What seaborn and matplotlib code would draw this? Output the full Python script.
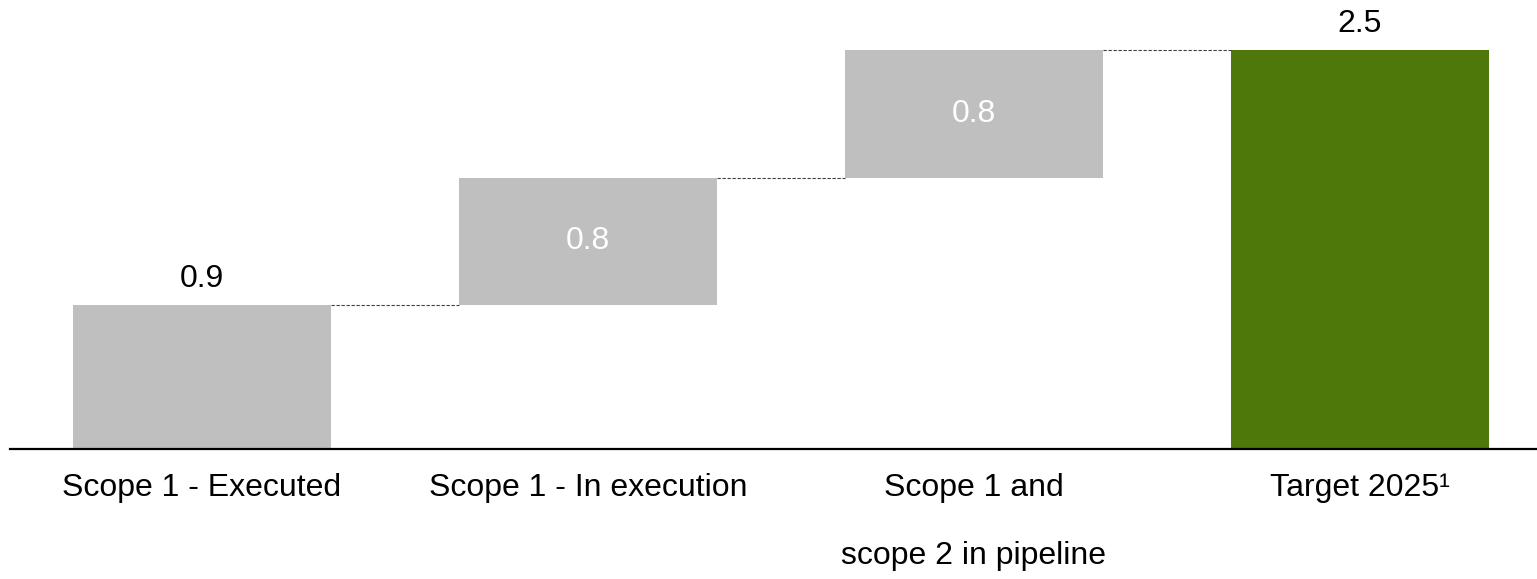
import matplotlib
matplotlib.use("Agg")
import matplotlib.pyplot as plt
import seaborn as sns
import numpy as np
import pandas as pd

# Waterfall: contributions toward the 2025 target
categories = ["Scope 1 - Executed", "Scope 1 - In execution",
              "Scope 1 and\nscope 2 in pipeline", "Target 2025\u00b9"]
steps = [0.9, 0.8, 0.8]
total = 2.5
value_labels = ["0.9", "0.8", "0.8", "2.5"]

heights = steps + [total]
bottoms = list(np.concatenate([[0.0], np.cumsum(steps)[:-1]])) + [0.0]
colors = ["#bfbfbf", "#bfbfbf", "#bfbfbf", "#4e790a"]

df = pd.DataFrame({"category": categories, "height": heights, "bottom": bottoms})

sns.set_theme(style="white")
plt.rcParams["font.family"] = ["Liberation Sans", "DejaVu Sans"]

W, H = 1537, 579
fig = plt.figure(figsize=(W / 100, H / 100), dpi=100)
ax = fig.add_axes([10 / W, 130 / H, 1527 / W, 449 / H])

bar_w = 0.668
sns.barplot(data=df, x="category", y="height", hue="category",
            palette=colors, legend=False, width=bar_w,
            ax=ax, saturation=1, linewidth=0, edgecolor="none")

# lift the step bars so each starts where the previous one ended
for patch, b in zip(ax.patches, df["bottom"]):
    patch.set_y(b)

ax.set_xlim(-0.497, 3.459)
ax.set_ylim(0, 2.813)

half = bar_w / 2
tops = [b + h for b, h in zip(bottoms, heights)]

# dashed connectors between consecutive bar tops
for i in range(len(categories) - 1):
    ax.plot([i + half, i + 1 - half], [tops[i], tops[i]], ls=(0, (3, 1.5)),
            color="#404040", lw=0.8)

# value labels: outside for first and total, inside for middle steps
for i, lab in enumerate(value_labels):
    if i in (1, 2):
        ax.text(i, bottoms[i] + heights[i] / 2, lab, ha="center", va="center",
                color="white", fontsize=23)
    else:
        ax.text(i, tops[i] + 0.07, lab, ha="center", va="bottom",
                color="black", fontsize=23)

for s in ["top", "right", "left"]:
    ax.spines[s].set_visible(False)
ax.spines["bottom"].set_color("black")
ax.spines["bottom"].set_linewidth(1.6)
ax.set_yticks([])
ax.set_xlabel("")
ax.set_ylabel("")
ax.tick_params(axis="x", length=0, pad=17, labelsize=23, labelcolor="black")
for t in ax.get_xticklabels():
    t.set_linespacing(2.65)
    t.set_verticalalignment("top")

fig.savefig("out.png", dpi=100, facecolor="white")
